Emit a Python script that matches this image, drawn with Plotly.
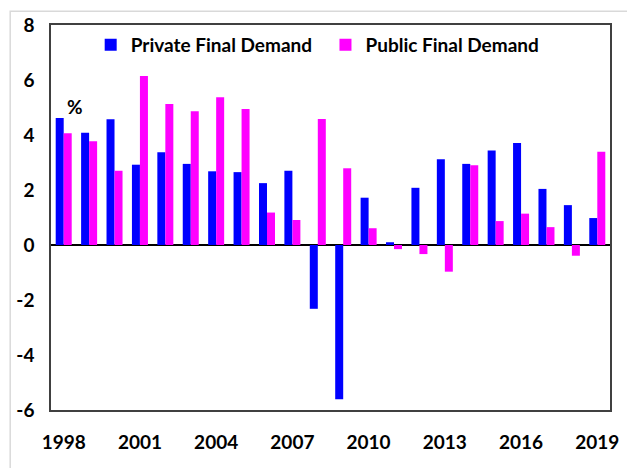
import plotly.graph_objects as go

years = list(range(1998, 2020))
private_fd = [4.62, 4.08, 4.57, 2.92, 3.37, 2.95, 2.68, 2.65, 2.25, 2.70, -2.32,
              -5.61, 1.72, 0.10, 2.08, 3.12, 2.95, 3.44, 3.71, 2.04, 1.45, 0.98]
public_fd = [4.06, 3.77, 2.70, 6.15, 5.13, 4.86, 5.37, 4.95, 1.18, 0.91, 4.58,
             2.79, 0.61, -0.15, -0.33, -0.97, 2.90, 0.87, 1.14, 0.65, -0.39, 3.39]
x_ticks = [1998, 2001, 2004, 2007, 2010, 2013, 2016, 2019]
y_ticks = [-6, -4, -2, 0, 2, 4, 6, 8]
y_ticktext = ["-6", "-4", "-2", "0", "2", "4", "6", "8"]

FONT = "Lato"
FS = 19

fig = go.Figure()
fig.add_trace(go.Bar(x=years, y=private_fd, name="Private Final Demand",
                     marker=dict(color="#0000ff", line=dict(width=0)), legend="legend"))
fig.add_trace(go.Bar(x=years, y=public_fd, name="Public Final Demand",
                     marker=dict(color="#ff00ff", line=dict(width=0)), legend="legend2"))

leg_common = dict(orientation="h", xanchor="left", yanchor="middle",
                  bgcolor="rgba(0,0,0,0)", font=dict(size=FS, weight="bold"),
                  itemwidth=30)

fig.update_layout(
    width=627, height=460,
    margin=dict(l=43, r=25, t=17, b=58),
    paper_bgcolor="white", plot_bgcolor="white",
    barmode="group", bargap=0.37, bargroupgap=0,
    font=dict(family=FONT, size=FS, color="black", weight="bold"),
    showlegend=True,
    legend=dict(x=0.071, y=0.948, **leg_common),
    legend2=dict(x=0.491, y=0.948, **leg_common),
    xaxis=dict(range=[1997.5, 2019.5], tickmode="array", tickvals=x_ticks,
               showgrid=False, ticks="", showline=True, linecolor="#404040", linewidth=1.5,
               mirror=True, zeroline=False, tickfont=dict(size=FS, weight="bold"),
               ticklabelstandoff=14, automargin=False),
    yaxis=dict(range=[-6, 8], tickmode="array", tickvals=y_ticks, ticktext=y_ticktext,
               showgrid=False,
               ticks="", showline=True, linecolor="#404040", linewidth=1.5, mirror=True,
               zeroline=True, zerolinecolor="black", zerolinewidth=1.5,
               tickfont=dict(size=FS, weight="bold"), ticklabelstandoff=11,
               automargin=False),
    annotations=[dict(text="%", x=1998, y=4.62, xref="x", yref="y",
                      xanchor="left", yanchor="bottom", xshift=1, yshift=-2,
                      showarrow=False, font=dict(size=FS, weight="bold"))],
    shapes=[dict(type="rect", xref="paper", yref="paper", layer="below",
                 x0=-0.073, x1=1.2, y0=-0.3, y1=1.036,
                 line=dict(color="#d9d9d9", width=1.5))],
)

fig.write_html("out.html")
